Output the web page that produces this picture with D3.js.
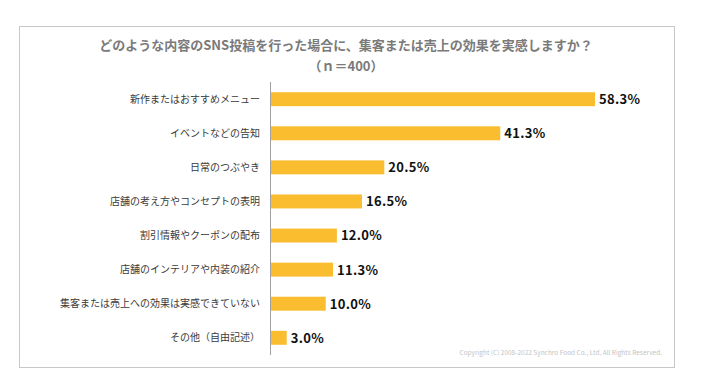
<!DOCTYPE html>
<html>
<head>
<meta charset="utf-8">
<script src="https://cdn.jsdelivr.net/npm/d3@7"></script>
<style>
  body { margin: 0; background: #fff; }
  svg text { font-family: "Noto Sans CJK JP", "Noto Sans", sans-serif; }
</style>
</head>
<body>
<div id="chart"></div>
<script>
// data
var categories = ['新作またはおすすめメニュー', 'イベントなどの告知', '日常のつぶやき',
  '店舗の考え方やコンセプトの表明', '割引情報やクーポンの配布', '店舗のインテリアや内装の紹介',
  '集客または売上への効果は実感できていない', 'その他（自由記述）'];
var values = [58.3, 41.3, 20.5, 16.5, 12.0, 11.3, 10.0, 3.0];
var title = 'どのような内容のSNS投稿を行った場合に、集客または売上の効果を実感しますか？';
var subtitle = '（ｎ＝400）';
var copyright = 'Copyright (C) 2008-2022  Synchro Food Co., Ltd. All Rights Reserved.';

var W = 701, H = 389;
var axisX = 270, plotTop = 82, plotBottom = 355;

var svg = d3.select('#chart').append('svg')
  .attr('width', W).attr('height', H);

// frame
svg.append('rect')
  .attr('x', 19.5).attr('y', 26.5).attr('width', 655).attr('height', 341)
  .attr('fill', 'none').attr('stroke', '#c8c8c8');

svg.append('text').attr('x', 346).attr('y', 50)
  .attr('text-anchor', 'middle').attr('font-size', 13).attr('font-weight', 'bold')
  .attr('fill', '#7a7a7a').text(title);
svg.append('text').attr('x', 346).attr('y', 71)
  .attr('text-anchor', 'middle').attr('font-size', 13).attr('font-weight', 'bold')
  .attr('fill', '#7a7a7a').text(subtitle);

var x = d3.scaleLinear().domain([0, 60]).range([axisX, axisX + 334.5]);
var y = d3.scaleBand().domain(categories).range([plotTop, plotBottom]).paddingInner(0.59).paddingOuter(0.3);

var g = svg.append('g');

g.selectAll('rect.bar').data(values).enter().append('rect')
  .attr('class', 'bar')
  .attr('x', x(0))
  .attr('y', function(d, i) { return y(categories[i]); })
  .attr('width', function(d) { return x(d) - x(0); })
  .attr('height', y.bandwidth())
  .attr('fill', '#fbbd30');

// axis line
g.append('line').attr('x1', axisX + 0.5).attr('x2', axisX + 0.5)
  .attr('y1', plotTop).attr('y2', plotBottom)
  .attr('stroke', '#a0a0a0').attr('stroke-width', 1);

g.selectAll('text.cat').data(categories).enter().append('text')
  .attr('class', 'cat')
  .attr('x', 260)
  .attr('y', function(d) { return y(d) + y.bandwidth() / 2; })
  .attr('dy', '0.35em')
  .attr('text-anchor', 'end')
  .attr('font-size', 10)
  .attr('fill', '#3a3a3a')
  .text(function(d) { return d; });

g.selectAll('text.val').data(values).enter().append('text')
  .attr('class', 'val')
  .attr('x', function(d) { return x(d) + 4; })
  .attr('y', function(d, i) { return y(categories[i]) + y.bandwidth() / 2; })
  .attr('dy', '0.38em')
  .attr('font-size', 13)
  .attr('font-weight', 'bold')
  .attr('letter-spacing', 0.3)
  .attr('fill', '#111')
  .text(function(d) { return d.toFixed(1) + '%'; });

svg.append('text').attr('x', 662).attr('y', 355)
  .attr('text-anchor', 'end').attr('font-size', 6.5)
  .attr('fill', '#c4c4c4').text(copyright);
</script>
</body>
</html>
